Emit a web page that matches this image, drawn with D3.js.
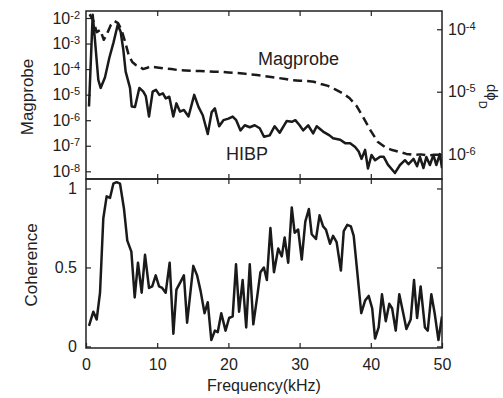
<!DOCTYPE html>
<html>
<head>
<meta charset="utf-8">
<script src="https://cdn.jsdelivr.net/npm/d3@7"></script>
<style>
  body { margin: 0; background: #fff; }
  text { font-family: "Liberation Sans", Arial, sans-serif; fill: #222; }
</style>
</head>
<body>
<svg id="chart" width="503" height="398"></svg>
<script>
// Magprobe spectrum (dashed, left axis)
const magFreq = [0.5, 1, 1.5, 2, 2.5, 3, 3.5, 4, 4.5, 5, 5.5, 6, 6.5, 7, 7.5, 8, 8.5, 9, 10, 11,
  12, 13, 14, 15, 16, 17, 18, 19, 20, 21, 22, 23, 24, 25, 26, 27, 28, 29, 30, 31,
  32, 33, 34, 35, 36, 37, 38, 39, 40, 41, 42, 43, 44, 45, 46, 47, 48, 49, 50];
const magVals = [1.4e-2, 8.3e-3, 2.8e-3, 3.4e-3, 1.4e-3, 2.6e-3, 5.4e-3, 7.6e-3, 6.3e-3, 3.4e-3,
  1.15e-3, 3.5e-4, 1.9e-4, 1.45e-4, 1.3e-4, 1.0e-4, 1.1e-4, 1.26e-4, 1.15e-4, 1.05e-4,
  1.0e-4, 9.1e-5, 8.9e-5, 8.5e-5, 8.5e-5, 8.1e-5, 7.8e-5, 7.8e-5, 7.4e-5, 7.1e-5,
  6.8e-5, 6.2e-5, 5.9e-5, 5.4e-5, 4.9e-5, 4.5e-5, 4.1e-5, 3.7e-5, 3.5e-5, 3.4e-5,
  3.2e-5, 2.6e-5, 2.2e-5, 1.6e-5, 1.15e-5, 7.4e-6, 3.6e-6, 1.2e-6, 3.8e-7, 1.4e-7,
  8.9e-8, 6.8e-8, 5.8e-8, 4.8e-8, 4.4e-8, 4.6e-8, 4.2e-8, 4.4e-8, 4.4e-8];

// HIBP spectrum (solid, right axis)
const hibpFreq = [0.42, 0.94, 1.26, 1.73, 2.06, 2.67, 3.28, 3.84, 4.45, 4.87, 5.24, 5.57, 6.18, 6.42, 6.88,
  7.49, 8.05, 8.4, 8.85, 9.36, 9.83, 10.3, 10.8, 11.2, 11.7, 12.26, 12.7, 13.2, 13.75, 14.4,
  15.2, 15.8, 16.4, 17.1, 17.65, 18.1, 18.7, 19.3, 20.0, 20.6, 21.1, 21.7, 22.3, 23.0, 23.7,
  24.4, 25.0, 25.8, 26.5, 27.2, 28.2, 28.9, 29.4, 30.0, 30.5, 31.2, 31.9, 32.4, 33.3, 34.2,
  34.7, 35.7, 36.4, 37.1, 37.8, 38.3, 38.7, 39.2, 39.6, 40.1, 40.6, 41.3, 41.8, 42.4, 43.4,
  44.1, 44.8, 45.3, 46.0, 46.5, 46.9, 47.4, 47.8, 48.3, 48.8, 49.2, 49.7, 50.0];
const hibpVals = [5.8e-6, 1.7e-4, 6.7e-5, 1.54e-5, 1.15e-5, 1.7e-5, 3.5e-5, 6.0e-5, 1.17e-4, 9.1e-5,
  4.7e-5, 2.1e-5, 1.15e-5, 5.8e-6, 5.7e-6, 1.15e-5, 1.0e-5, 8.5e-6, 4.0e-6, 1.0e-5,
  1.07e-5, 8.9e-6, 9.4e-6, 7.8e-6, 8.3e-6, 4.0e-6, 6.5e-6, 4.8e-6, 5.1e-6, 4.0e-6,
  8.9e-6, 5.7e-6, 4.2e-6, 2.1e-6, 4.7e-6, 5.4e-6, 2.8e-6, 3.5e-6, 3.7e-6, 4.0e-6,
  3.5e-6, 2.4e-6, 2.9e-6, 2.7e-6, 2.9e-6, 2.6e-6, 1.9e-6, 2.0e-6, 2.8e-6, 2.2e-6,
  3.4e-6, 3.3e-6, 3.5e-6, 2.9e-6, 2.4e-6, 2.9e-6, 2.15e-6, 2.8e-6, 2.3e-6, 2.0e-6,
  1.8e-6, 1.7e-6, 1.5e-6, 1.5e-6, 1.3e-6, 1.1e-6, 8.4e-7, 1.17e-6, 5.9e-7, 9.7e-7,
  8.0e-7, 9.1e-7, 9.1e-7, 6.8e-7, 5.0e-7, 6.7e-7, 8.0e-7, 6.9e-7, 8.4e-7, 6.4e-7,
  9.0e-7, 6.0e-7, 9.0e-7, 6.7e-7, 9.7e-7, 6.7e-7, 1.0e-6, 6.0e-7];

// coherence between the two
const cohFreq = [0.42, 1.03, 1.5, 1.97, 2.43, 2.9, 3.37, 3.84, 4.3, 4.78, 5.34, 5.8, 6.37, 6.84, 7.3,
  7.82, 8.29, 8.85, 9.3, 9.79, 10.26, 10.7, 11.19, 11.75, 12.27, 12.7, 13.3, 13.75, 14.2, 15.07,
  15.6, 16.1, 16.65, 17.1, 17.6, 18.1, 18.5, 19.0, 19.6, 20.1, 20.6, 21.07, 21.5, 22.0, 22.5,
  23.0, 23.5, 24.06, 24.5, 24.98, 25.4, 25.9, 26.4, 27.0, 27.5, 27.9, 28.4, 28.9, 29.3, 29.8,
  30.3, 30.8, 31.3, 31.7, 32.3, 32.8, 33.3, 33.7, 34.27, 34.7, 35.2, 35.8, 36.2, 36.7, 37.2,
  37.6, 38.1, 38.66, 39.2, 39.7, 40.2, 40.6, 41.1, 41.57, 42.1, 42.6, 43.0, 43.5, 44.0, 44.6,
  45.0, 45.6, 46.07, 46.5, 47.0, 47.6, 48.0, 48.5, 48.97, 49.5, 50.0];
const cohVals = [0.13, 0.22, 0.17, 0.34, 0.81, 0.95, 0.94, 1.03, 1.04, 1.03, 0.87, 0.67, 0.60, 0.31, 0.53,
  0.34, 0.58, 0.37, 0.38, 0.45, 0.38, 0.37, 0.34, 0.53, 0.08, 0.36, 0.41, 0.45, 0.15, 0.51,
  0.45, 0.35, 0.21, 0.28, 0.04, 0.10, 0.09, 0.21, 0.10, 0.18, 0.19, 0.52, 0.22, 0.42, 0.12,
  0.52, 0.14, 0.32, 0.47, 0.50, 0.42, 0.75, 0.47, 0.62, 0.57, 0.69, 0.53, 0.88, 0.72, 0.74,
  0.55, 0.79, 0.87, 0.71, 0.68, 0.83, 0.76, 0.74, 0.65, 0.70, 0.66, 0.48, 0.73, 0.77, 0.76,
  0.70, 0.47, 0.21, 0.29, 0.32, 0.24, 0.05, 0.12, 0.33, 0.16, 0.27, 0.24, 0.10, 0.33, 0.20,
  0.11, 0.17, 0.42, 0.18, 0.38, 0.12, 0.10, 0.33, 0.21, 0.04, 0.19];

const xTicks = [0, 10, 20, 30, 40, 50];
const leftTicks = [1e-8, 1e-7, 1e-6, 1e-5, 1e-4, 1e-3, 1e-2];
const rightTicks = [1e-6, 1e-5, 1e-4];
const cohTicks = [0, 0.5, 1];

const left = 86, right = 442, top1 = 11, mid = 179, bottom = 348;
const ink = '#222';

const svg = d3.select('#chart');

const x = d3.scaleLinear().domain([0, 50]).range([left, right]);
const yMag = d3.scaleLog().domain([5.0e-9, 1.88e-2]).range([mid, top1]);
const yHibp = d3.scaleLog().domain([4.0e-7, 1.96e-4]).range([mid, top1]);
const yCoh = d3.scaleLinear().domain([-0.01, 1.06]).range([bottom, mid]);

svg.append('clipPath').attr('id', 'clipTop')
  .append('rect').attr('x', left).attr('y', top1).attr('width', right - left).attr('height', mid - top1);
svg.append('clipPath').attr('id', 'clipBot')
  .append('rect').attr('x', left).attr('y', mid).attr('width', right - left).attr('height', bottom - mid);

function styleAxis(g) {
  g.select('.domain').remove();
  g.attr('font-family', '"Liberation Sans", Arial, sans-serif').attr('font-size', 16).attr('color', ink);
  g.selectAll('.tick line').attr('stroke-width', 1.2);
}

function powLabels(g, dx, anchor) {
  g.selectAll('.tick text').each(function(d) {
    const t = d3.select(this).text(null).attr('x', dx).attr('text-anchor', anchor);
    t.append('tspan').text('10');
    t.append('tspan').attr('dy', '-0.45em').attr('font-size', 11).text(Math.round(Math.log10(d)));
  });
}

// top panel axes
svg.append('g').attr('transform', `translate(${left},0)`)
  .call(d3.axisLeft(yMag).tickValues(leftTicks).tickSize(-5))
  .call(styleAxis).call(g => powLabels(g, -6, 'end'));
svg.append('g').attr('transform', `translate(${right},0)`)
  .call(d3.axisRight(yHibp).tickValues(rightTicks).tickSize(-5))
  .call(styleAxis).call(g => powLabels(g, 6, 'start'));
svg.append('g').attr('transform', `translate(0,${top1})`)
  .call(d3.axisTop(x).tickValues([10, 20, 30, 40]).tickSize(-5).tickFormat(''))
  .call(styleAxis);
svg.append('g').attr('transform', `translate(0,${mid})`)
  .call(d3.axisBottom(x).tickValues([10, 20, 30, 40]).tickSize(-5).tickFormat(''))
  .call(styleAxis);

// bottom panel axes
svg.append('g').attr('transform', `translate(0,${mid})`)
  .call(d3.axisTop(x).tickValues([10, 20, 30, 40]).tickSize(-5).tickFormat(''))
  .call(styleAxis);
svg.append('g').attr('transform', `translate(0,${bottom})`)
  .call(d3.axisBottom(x).tickValues(xTicks).tickSize(-5))
  .call(styleAxis)
  .call(g => g.selectAll('.tick text').attr('y', 11));
svg.append('g').attr('transform', `translate(${left},0)`)
  .call(d3.axisLeft(yCoh).tickValues(cohTicks).tickSize(-5).tickFormat(d3.format('')))
  .call(styleAxis)
  .call(g => g.selectAll('.tick text').attr('x', -9));
svg.append('g').attr('transform', `translate(${right},0)`)
  .call(d3.axisRight(yCoh).tickValues(cohTicks).tickSize(-5).tickFormat(''))
  .call(styleAxis);

// frames
svg.append('rect').attr('x', left).attr('y', top1).attr('width', right - left).attr('height', mid - top1)
  .attr('fill', 'none').attr('stroke', ink).attr('stroke-width', 1.5);
svg.append('rect').attr('x', left).attr('y', mid).attr('width', right - left).attr('height', bottom - mid)
  .attr('fill', 'none').attr('stroke', ink).attr('stroke-width', 1.5);

// lines
const magLine = d3.line().x((d, i) => x(magFreq[i])).y(d => yMag(d));
const hibpLine = d3.line().x((d, i) => x(hibpFreq[i])).y(d => yHibp(d));
const cohLine = d3.line().x((d, i) => x(cohFreq[i])).y(d => yCoh(d));

const topG = svg.append('g').attr('clip-path', 'url(#clipTop)');
topG.append('path').datum(magVals).attr('d', magLine)
  .attr('fill', 'none').attr('stroke', '#1a1a1a').attr('stroke-width', 2.5)
  .attr('stroke-dasharray', '9,5').attr('stroke-linejoin', 'round');
topG.append('path').datum(hibpVals).attr('d', hibpLine)
  .attr('fill', 'none').attr('stroke', '#1a1a1a').attr('stroke-width', 2.5)
  .attr('stroke-linejoin', 'round');

svg.append('g').attr('clip-path', 'url(#clipBot)')
  .append('path').datum(cohVals).attr('d', cohLine)
  .attr('fill', 'none').attr('stroke', '#1a1a1a').attr('stroke-width', 2.5)
  .attr('stroke-linejoin', 'round');

// series labels
svg.append('text').attr('x', 258).attr('y', 65).attr('font-size', 18).text('Magprobe');
svg.append('text').attr('x', 226).attr('y', 160).attr('font-size', 18).text('HIBP');

// axis titles
svg.append('text').attr('transform', 'translate(33,97) rotate(-90)')
  .attr('text-anchor', 'middle').attr('font-size', 17).text('Magprobe');
svg.append('text').attr('transform', 'translate(37,265) rotate(-90)')
  .attr('text-anchor', 'middle').attr('font-size', 17).text('Coherence');
svg.append('text').attr('x', (left + right) / 2).attr('y', 391)
  .attr('text-anchor', 'middle').attr('font-size', 16).text('Frequency(kHz)');

const rLab = svg.append('text').attr('transform', 'translate(487,84) rotate(90)').attr('font-size', 15);
rLab.append('tspan').text('dϕ');
rLab.append('tspan').attr('dy', 8).attr('font-size', 11).text('D');
</script>
</body>
</html>
